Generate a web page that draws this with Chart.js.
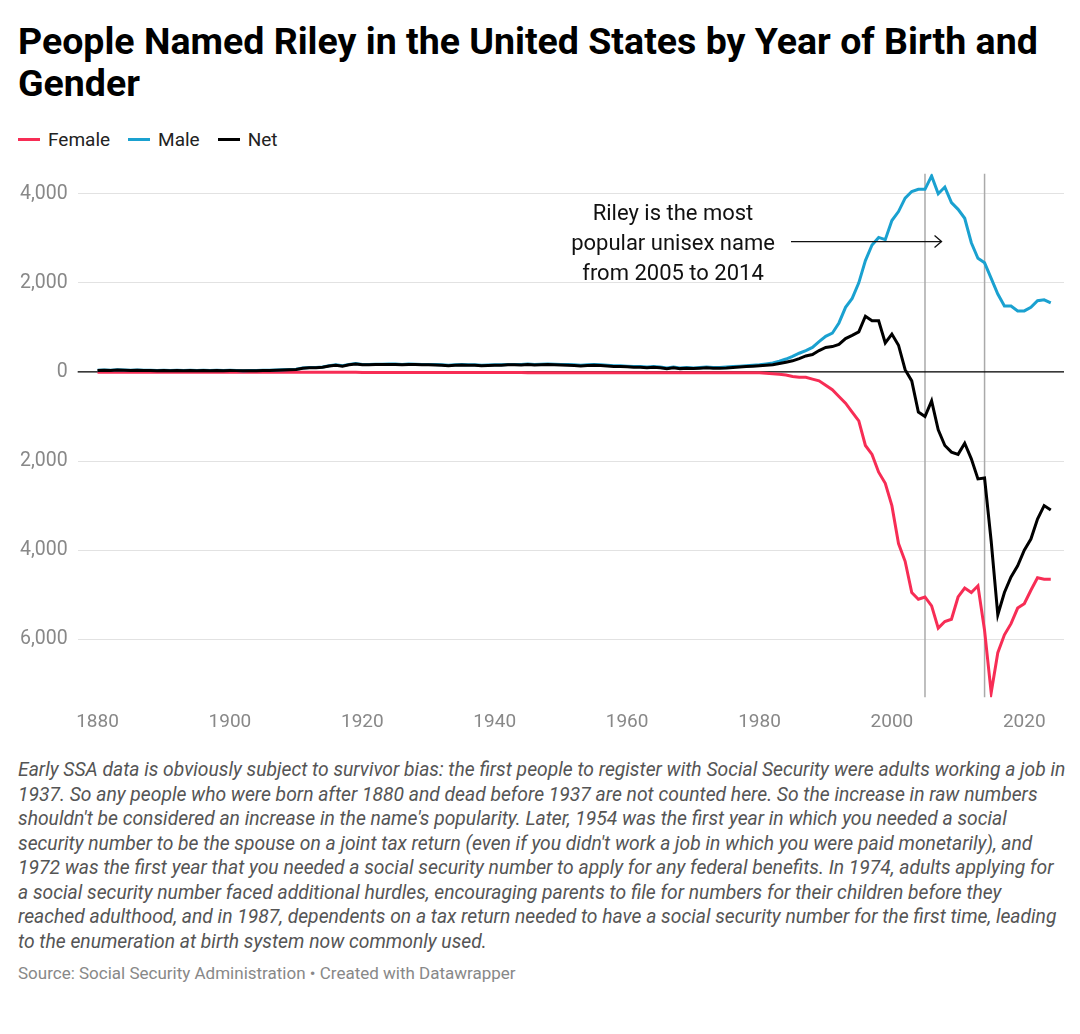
<!DOCTYPE html>
<html><head><meta charset="utf-8">
<script src="https://cdn.jsdelivr.net/npm/chart.js@4"></script>
<style>
body{margin:0;background:#fff;font-family:Roboto,sans-serif;}
h1{font-size:37.5px;line-height:42px;margin:0;padding:20px 10px 0 18px;font-weight:700;color:#000;}
#legend{padding:24px 18px 0 18px;font-size:19px;color:#222;height:24px}
#legend span{margin-right:18px}
#legend i{display:inline-block;width:22px;height:3px;vertical-align:middle;margin-right:8px;margin-top:-3px}
#wrap{position:relative;width:1080px;height:588px;margin-top:0px}
.note{font-style:italic;color:#555;font-size:19.3px;line-height:24.5px;padding:18px 12px 0 18px}
.src{color:#888;font-size:17px;padding:9px 18px 0 18px}
</style></head><body>
<h1>People Named Riley in the United States by Year of Birth and Gender</h1>
<div id="legend"><span><i style="background:#f72d55"></i>Female</span><span><i style="background:#1aa1d0"></i>Male</span><span><i style="background:#000"></i>Net</span></div>
<div id="wrap"><canvas id="c"></canvas></div>
<div class="note">Early SSA data is obviously subject to survivor bias: the first people to register with Social Security were adults working a job in 1937. So any people who were born after 1880 and dead before 1937 are not counted here. So the increase in raw numbers shouldn't be considered an increase in the name's popularity. Later, 1954 was the first year in which you needed a social security number to be the spouse on a joint tax return (even if you didn't work a job in which you were paid monetarily), and 1972 was the first year that you needed a social security number to apply for any federal benefits. In 1974, adults applying for a social security number faced additional hurdles, encouraging parents to file for numbers for their children before they reached adulthood, and in 1987, dependents on a tax return needed to have a social security number for the first time, leading to the enumeration at birth system now commonly used.</div>
<div class="src">Source: Social Security Administration • Created with Datawrapper</div>
<script>
// years 1880..2024
const years = [];
for (let y = 1880; y <= 2024; y++) years.push(y);

// male births 1880-2024
const male = [
  40,45,40,50,45,40,45,40,40,35, 40,35,40,35,40,35,40,35,40,35,
  40,35,30,35,35,40,40,45,50,55, 60,90,100,100,110,140,160,140,170,190,
  170,170,175,175,180,180,170,180,175,170, 170,165,160,150,160,165,160,160,150,155,
  160,160,170,170,165,180,170,175,180,175, 170,165,160,150,160,165,160,150,140,140,
  130,120,120,110,120,110,90,110,90,100, 90,100,110,100,100,110,120,130,140,150,
  160,180,200,240,290,350,420,480,550,680, 800,870,1100,1450,1650,2000,2500,2850,3020,2970,
  3400,3600,3900,4050,4100,4100,4400,4000,4150,3800, 3650,3450,2900,2550,2450,2100,1750,1480,1480,1370,
  1370,1450,1600,1620,1550
];
// female births 1880-2024 (plotted negative)
const female = [
  -5,-5,-5,-5,-5,-5,-5,-5,-5,-5, -5,-5,-5,-5,-5,-5,-5,-5,-5,-5,
  -5,-5,-5,-5,-5,-5,-5,-5,-5,-5, -5,-5,-5,-5,-5,-8,-8,-8,-8,-8,
  -10,-10,-10,-10,-10,-10,-10,-10,-10,-10, -10,-10,-10,-10,-10,-10,-10,-10,-10,-10,
  -10,-10,-12,-12,-12,-15,-15,-15,-15,-15, -15,-15,-15,-15,-15,-15,-15,-15,-15,-15,
  -15,-15,-15,-15,-15,-15,-15,-15,-15,-15, -15,-15,-15,-15,-15,-20,-20,-20,-20,-20,
  -20,-30,-40,-50,-70,-100,-120,-120,-160,-200, -300,-400,-550,-700,-900,-1100,-1650,-1850,-2250,-2500,
  -3000,-3850,-4250,-4950,-5100,-5050,-5250,-5750,-5600,-5550, -5050,-4850,-4950,-4800,-5800,-7200,-6300,-5900,-5650,-5300,
  -5200,-4900,-4620,-4650,-4650
];
// net 1880-2024
const net = [
  35,40,35,45,40,35,40,35,35,30, 35,30,35,30,35,30,35,30,35,30,
  35,30,25,30,30,35,35,40,45,50, 55,85,95,95,105,135,150,130,160,180,
  160,160,165,165,170,170,160,170,165,160, 160,155,150,140,150,155,150,150,140,145,
  150,150,160,160,155,165,155,160,165,160, 155,150,145,135,145,150,145,135,125,125,
  115,105,105,95,105,95,75,95,75,85, 75,85,95,85,85,90,100,110,120,130,
  140,150,160,190,220,250,300,360,390,480, 550,570,620,750,820,900,1250,1150,1150,650,
  850,600,50,-200,-900,-1000,-650,-1300,-1650,-1800, -1850,-1600,-1950,-2400,-2380,-3800,-5450,-4950,-4600,-4350,
  -4000,-3750,-3300,-3000,-3100
];
const yTicks = [-6000, -4000, -2000, 0, 2000, 4000];
const xTicks = [1880, 1900, 1920, 1940, 1960, 1980, 2000, 2020];
const markerYears = [2005, 2014];

const pts = arr => arr.map((v, i) => ({ x: years[i], y: v }));

const extras = {
  id: "extras",
  beforeDatasetsDraw(chart) {
    const { ctx, chartArea, scales } = chart;
    ctx.save();
    ctx.strokeStyle = "#aaa"; ctx.lineWidth = 1.5;
    for (const yr of markerYears) {
      const x = scales.x.getPixelForValue(yr);
      ctx.beginPath(); ctx.moveTo(x, scales.y.getPixelForValue(4450)); ctx.lineTo(x, chartArea.bottom); ctx.stroke();
    }
    const y0 = scales.y.getPixelForValue(0);
    ctx.strokeStyle = "#000"; ctx.lineWidth = 1.2;
    ctx.beginPath(); ctx.moveTo(chartArea.left, y0); ctx.lineTo(chartArea.right, y0); ctx.stroke();
    ctx.restore();
  },
  afterDatasetsDraw(chart) {
    const { ctx, scales } = chart;
    ctx.save();
    ctx.font = "22px Roboto"; ctx.fillStyle = "#111"; ctx.textAlign = "center";
    const cx = 673, y1 = scales.y.getPixelForValue(3600);
    ctx.fillText("Riley is the most", cx, y1 + 8);
    ctx.fillText("popular unisex name", cx, y1 + 38);
    ctx.fillText("from 2005 to 2014", cx, y1 + 68);
    const ay = y1 + 30, ax2 = scales.x.getPixelForValue(2007.5);
    ctx.strokeStyle = "#111"; ctx.lineWidth = 1.3;
    ctx.beginPath(); ctx.moveTo(791, ay); ctx.lineTo(ax2, ay); ctx.stroke();
    ctx.beginPath(); ctx.moveTo(ax2 - 7, ay - 6); ctx.lineTo(ax2, ay); ctx.lineTo(ax2 - 7, ay + 6); ctx.stroke();
    ctx.restore();
  }
};

new Chart(document.getElementById("c"), {
  type: "line",
  data: {
    datasets: [
      { label: "Female", data: pts(female), borderColor: "#f72d55", borderWidth: 3, pointRadius: 0, tension: 0, order: 2 },
      { label: "Male", data: pts(male), borderColor: "#1aa1d0", borderWidth: 3, pointRadius: 0, tension: 0, order: 1 },
      { label: "Net", data: pts(net), borderColor: "#000", borderWidth: 3, pointRadius: 0, tension: 0, order: 0 }
    ]
  },
  options: {
    responsive: true, maintainAspectRatio: false, animation: false,
    layout: { padding: { left: 10, right: 16, top: 0, bottom: 0 } },
    plugins: { legend: { display: false }, tooltip: { enabled: false } },
    scales: {
      x: {
        type: "linear", min: 1877, max: 2026,
        grid: { display: false }, border: { display: false },
        afterBuildTicks: ax => { ax.ticks = xTicks.map(v => ({ value: v })); },
        ticks: { color: "#888", font: { family: "Roboto", size: 19 }, padding: 6, callback: v => String(v) }
      },
      y: {
        min: -7300, max: 4450,
        grid: { color: "#e2e2e2", lineWidth: 1, drawTicks: false },
        border: { display: false },
        afterBuildTicks: ax => { ax.ticks = yTicks.map(v => ({ value: v })); },
        ticks: { color: "#888", font: { family: "Roboto", size: 19.5 }, padding: 10,
          callback: v => Math.abs(v).toLocaleString("en-US") }
      }
    }
  },
  plugins: [extras]
});
</script>
</body></html>
